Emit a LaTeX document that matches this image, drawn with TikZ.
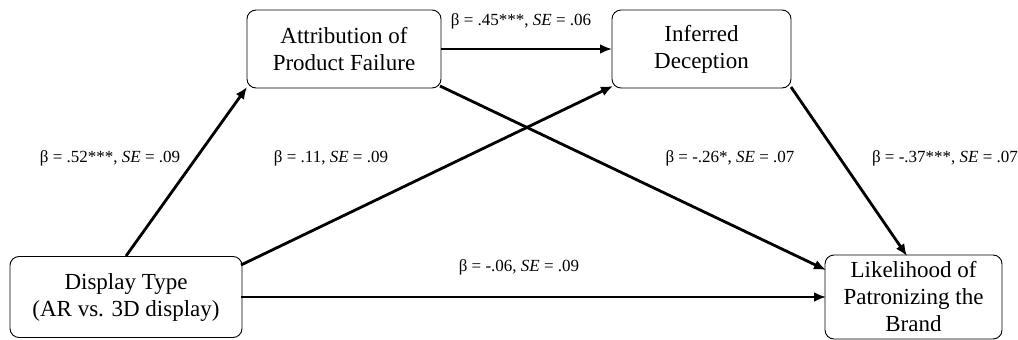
\documentclass[tikz,border=0pt]{standalone}
\usepackage{fontspec}
\setmainfont{Liberation Serif}
\usetikzlibrary{arrows.meta}
\begin{document}
\begin{tikzpicture}[x=1pt,y=-1pt,
  box/.style={draw,line width=0.9pt,rounded corners=9pt,align=center,font=\fontsize{23}{27}\selectfont,inner sep=0pt},
  conn/.style={line width=2.8pt,-{Latex[length=12pt,width=10pt]}},
  lab/.style={font=\fontsize{17}{19}\selectfont,inner sep=0pt}]
\useasboundingbox (0,0) rectangle (1018,340);
\node[box,minimum width=232pt,minimum height=81pt] (dt) at (126,297) {Display Type\\(AR vs. 3D display)};
\node[box,minimum width=194pt,minimum height=78pt] (apf) at (344,49) {Attribution of\\Product Failure};
\node[box,minimum width=179pt,minimum height=78pt] (id) at (701.5,49) {Inferred\\Deception};
\node[box,minimum width=177pt,minimum height=84pt] (lpb) at (913.5,297) {Likelihood of\\Patronizing the\\Brand};
\coordinate (a1) at (126,256);
\coordinate (a2) at (247,87);
\draw[conn] (a1) -- (a2);
\coordinate (b1) at (441,49);
\coordinate (b2) at (612,49);
\draw[conn] (b1) -- (b2);
\coordinate (c1) at (241,265);
\coordinate (c2) at (613,86);
\draw[conn] (c1) -- (c2);
\coordinate (d1) at (440,86);
\coordinate (d2) at (826,270);
\draw[conn] (d1) -- (d2);
\coordinate (e1) at (791,87);
\coordinate (e2) at (907,256);
\draw[conn] (e1) -- (e2);
\coordinate (f1) at (241,297);
\coordinate (f2) at (826,297);
\draw[conn] (f1) -- (f2);
\node[lab] (l1) at (110,158) {β = .52***, \textit{SE} = .09};
\node[lab] (l2) at (331,158) {β = .11, \textit{SE} = .09};
\node[lab] (l3) at (730,158) {β = -.26*, \textit{SE} = .07};
\node[lab] (l4) at (945,158) {β = -.37***, \textit{SE} = .07};
\node[lab] (l5) at (519,267) {β = -.06, \textit{SE} = .09};
\node[lab] (l6) at (521,21) {β = .45***, \textit{SE} = .06};
\end{tikzpicture}
\end{document}
